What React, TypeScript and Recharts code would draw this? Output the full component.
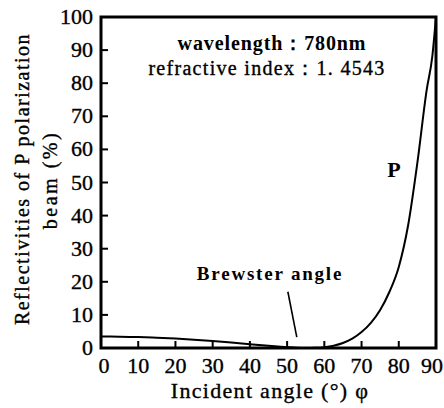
import { Line, LineChart, ReferenceArea, ReferenceLine, XAxis, YAxis } from 'recharts';

// incident angle (deg) and P reflectivity (%)
const angles = [0, 5, 10, 15, 20, 25, 30, 35, 40, 45, 50, 52.5, 55, 57.5, 60, 62.5, 65, 67.5, 70, 72.5, 75, 77.5, 80, 82.5, 85, 87.5, 89, 90];
const reflectivity = [3.5, 3.4, 3.3, 3.1, 2.85, 2.5, 2.1, 1.65, 1.15, 0.65, 0.25, 0.08, 0, 0.05, 0.25, 0.7, 1.5, 2.8, 4.8, 7.6, 11.5, 17, 24.5, 37, 56, 78, 88, 100];

const xTicks = [0, 10, 20, 30, 40, 50, 60, 70, 80, 90];
const yTicks = [0, 10, 20, 30, 40, 50, 60, 70, 80, 90, 100];

// pointer from the "Brewster angle" note down to the minimum
const brewsterPointer = [
  { x: 50.2, y: 17 },
  { x: 52.6, y: 3.3 },
];

const data = angles.map((a, i) => ({ angle: a, rp: reflectivity[i] }));

const FONT = '"Liberation Serif", "Times New Roman", serif';
const ink = { fill: '#000', stroke: '#000', strokeWidth: 0.35, fontFamily: FONT };

function XTick({ x, y, payload }: any) {
  // last label sits against the right edge of the picture
  const dx = payload.value === 90 ? -4 : payload.value === 0 ? 3 : 0;
  return (
    <g>
      <line x1={x} x2={x} y1={y} y2={y - 7} stroke="#000" strokeWidth={2} />
      <text x={x + dx} y={y + 25} textAnchor="middle" fontSize={22} {...ink}>
        {payload.value}
      </text>
    </g>
  );
}

function YTick({ x, y, payload }: any) {
  return (
    <g>
      <line x1={x} x2={x + 7} y1={y} y2={y} stroke="#000" strokeWidth={2} />
      <text x={x - 8} y={y + 7} textAnchor="end" fontSize={22} {...ink}>
        {payload.value}
      </text>
    </g>
  );
}

export default function App() {
  return (
    <div style={{ position: 'absolute', left: 0, top: 0, width: 444, height: 408, background: '#fff' }}>
      <LineChart width={444} height={408} data={data} margin={{ top: 17, right: 8, bottom: 0, left: 0 }}>
        <XAxis
          dataKey="angle"
          type="number"
          domain={[0, 90]}
          ticks={xTicks}
          height={60}
          axisLine={false}
          tickLine={false}
          tickSize={0}
          tickMargin={0}
          tick={<XTick />}
          interval={0}
        />
        <YAxis
          type="number"
          domain={[0, 100]}
          ticks={yTicks}
          width={101}
          axisLine={false}
          tickLine={false}
          tickSize={0}
          tickMargin={0}
          tick={<YTick />}
          interval={0}
        />
        <ReferenceArea x1={0} x2={90} y1={0} y2={100} fill="none" stroke="#000" strokeWidth={3} />
        <ReferenceLine segment={brewsterPointer} stroke="#000" strokeWidth={1.6} />
        <Line
          type="monotone"
          dataKey="rp"
          stroke="#000"
          strokeWidth={2}
          dot={false}
          isAnimationActive={false}
        />
        <text x={272} y={50} textAnchor="middle" fontSize={20} fontWeight="bold" {...ink} strokeWidth={0} letterSpacing={0.9}>
          wavelength：780nm
        </text>
        <text x={267} y={75} textAnchor="middle" fontSize={20} {...ink} letterSpacing={1.3}>
          refractive index：1. 4543
        </text>
        <text x={394} y={177} textAnchor="middle" fontSize={22} fontWeight="bold" {...ink} strokeWidth={0}>
          P
        </text>
        <text x={270} y={280} textAnchor="middle" fontSize={19} fontWeight="bold" {...ink} strokeWidth={0} letterSpacing={1.8}>
          Brewster angle
        </text>
        <text x={270} y={398} textAnchor="middle" fontSize={22} {...ink} letterSpacing={1.3}>
          Incident angle (°) φ
        </text>
        <text
          x={29}
          y={179}
          textAnchor="middle"
          fontSize={20}
          {...ink}
          letterSpacing={1.5}
          transform="rotate(-90 29 179)"
        >
          Reflectivities of P polarization
        </text>
        <text
          x={57}
          y={180}
          textAnchor="middle"
          fontSize={20}
          {...ink}
          letterSpacing={2.5}
          transform="rotate(-90 57 180)"
        >
          beam (%)
        </text>
      </LineChart>
    </div>
  );
}
